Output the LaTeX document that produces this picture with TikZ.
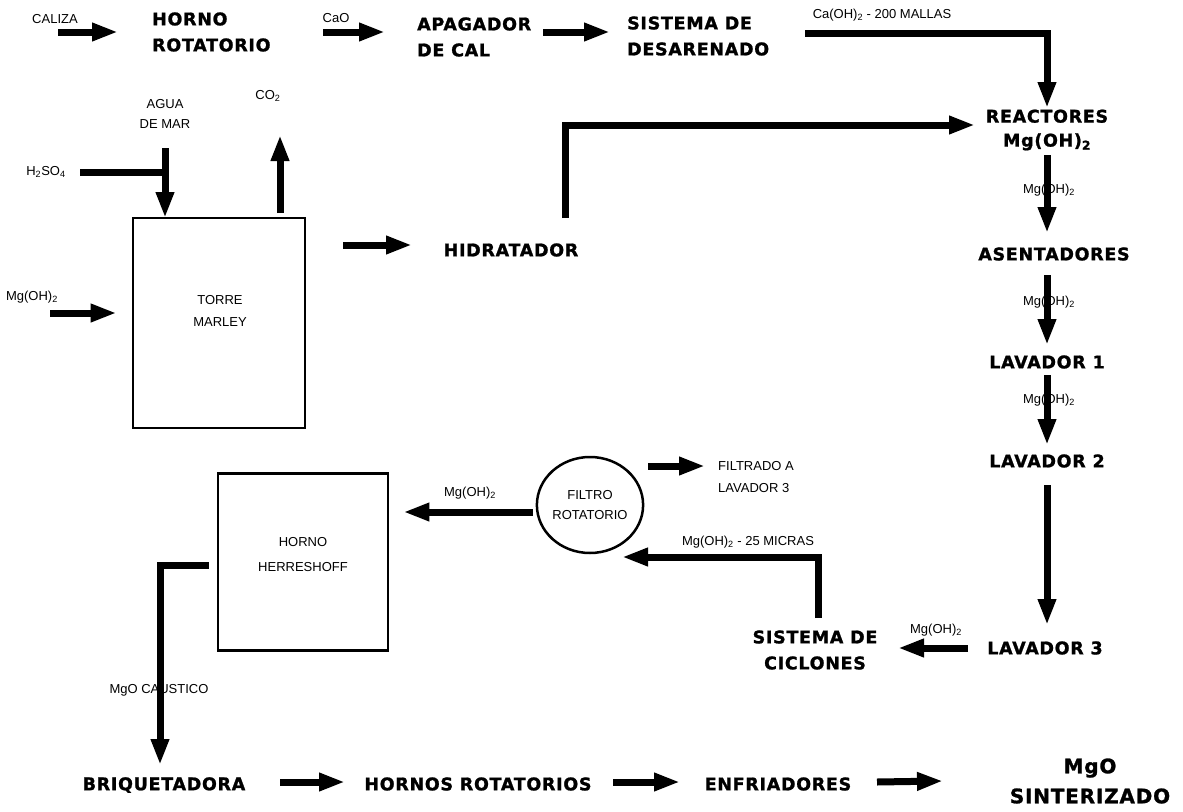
\documentclass[tikz,border=0pt]{standalone}
\usepackage{fontspec}
\setmainfont{Liberation Sans}
\newfontfamily\heavy[LetterSpace=4,BoldFeatures={FakeBold=1.2}]{DejaVu Sans}
\usetikzlibrary{arrows.meta,shapes.geometric}
\begin{document}
\begin{tikzpicture}[x=1pt,y=-1pt,
  bl/.style={font=\heavy\bfseries\fontsize{17.5}{26}\selectfont, inner sep=0pt, align=center},
  lb/.style={font=\fontsize{13}{20}\selectfont, inner sep=0pt, align=center},
  arr/.style={line width=7pt, -{Triangle[length=26pt,width=17pt]}},
  bar/.style={line width=7pt},
  box/.style={draw, line width=2.8pt, inner sep=0pt}]
\useasboundingbox[fill=white] (0,0) rectangle (1183,811);

% process nodes
\node[bl,anchor=west,align=left] (horno) at (152,32) {HORNO\\ROTATORIO};
\node[bl,anchor=west,align=left] (apag) at (417,37) {APAGADOR\\DE CAL};
\node[bl,anchor=west,align=left] (desar) at (627,36) {SISTEMA DE\\DESARENADO};
\node[bl,font=\heavy\bfseries\fontsize{17.5}{24}\selectfont] (react) at (1047,130) {REACTORES\\Mg(OH)\textsubscript{2}};
\node[bl] (asent) at (1054,254) {ASENTADORES};
\node[bl] (lav1) at (1047,362) {LAVADOR 1};
\node[bl] (lav2) at (1047,461) {LAVADOR 2};
\node[bl] (lav3) at (1045,648) {LAVADOR 3};
\node[bl] (cicl) at (815,650) {SISTEMA DE\\CICLONES};
\node[bl] (hidr) at (511,250) {HIDRATADOR};
\node[bl] (briq) at (164,785) {BRIQUETADORA};
\node[bl] (hrot) at (478,784) {HORNOS ROTATORIOS};
\node[bl] (enfr) at (778,784) {ENFRIADORES};
\node[bl,font=\heavy\bfseries\fontsize{20}{30}\selectfont] (mgo) at (1090,781) {MgO\\SINTERIZADO};
\node[box, minimum width=172pt, minimum height=210pt] (torre) at (219,323) {};
\node[box, minimum width=170pt, minimum height=177pt] (herr) at (303,562) {};
\node[draw, ellipse, line width=2.5pt, minimum width=90pt, minimum height=96pt, inner sep=0pt, lb] (filtro) at (590,505) {FILTRO\\ROTATORIO};

% labels
\node[lb] (caliza) at (55,19) {CALIZA};
\node[lb] (cao) at (336,18) {CaO};
\node[lb] (l200) at (882,15) {Ca(OH)\textsubscript{2} - 200 MALLAS};
\node[lb] (agua) at (165,114) {AGUA\\DE MAR};
\node[lb] (h2so4) at (46,172) {H\textsubscript{2}SO\textsubscript{4}};
\node[lb] (co2) at (268,96) {CO\textsubscript{2}};
\node[lb] (mgin) at (32,297) {Mg(OH)\textsubscript{2}};
\node[lb,font=\fontsize{13}{22}\selectfont] (torret) at (220,311) {TORRE\\MARLEY};
\node[lb,font=\fontsize{13}{25}\selectfont] (herrt) at (303,555) {HORNO\\HERRESHOFF};
\node[lb] (m1) at (1049,190) {Mg(OH)\textsubscript{2}};
\node[lb] (m2) at (1049,302) {Mg(OH)\textsubscript{2}};
\node[lb] (m3) at (1049,400) {Mg(OH)\textsubscript{2}};
\node[lb] (m4) at (936,630) {Mg(OH)\textsubscript{2}};
\node[lb] (micras) at (748,542) {Mg(OH)\textsubscript{2} - 25 MICRAS};
\node[lb,anchor=west,align=left,font=\fontsize{13}{22}\selectfont] (filtrado) at (718,477) {FILTRADO A\\LAVADOR 3};
\node[lb] (mgf) at (470,493) {Mg(OH)\textsubscript{2}};
\node[lb] (caus) at (159,690) {MgO CAUSTICO};

% connectors: top row
\draw[arr] ([shift={(3,13)}]caliza.center) -- ([xshift=-34pt]horno.west);
\draw[arr] ([shift={(-13,14)}]cao.center) -- ([shift={(-32,-5)}]apag.west);
\draw[arr] ([shift={(126,-5)}]apag.west) -- ([shift={(-17,-4)}]desar.west);
\draw[arr] ([shift={(178,-3)}]desar.west) -| ([shift={(0,-22)}]react.center);
\draw[arr] ([shift={(54,-32)}]hidr.center) |- ([shift={(-72,-5)}]react.center);

% torre marley
\draw[arr] ([shift={(0,34)}]agua.center) -- ([shift={(-54,-105)}]torre.center);
\draw[bar] ([shift={(34,0)}]h2so4.center) -- ([shift={(3.5,58)}]agua.center);
\draw[arr] ([shift={(61,-110)}]torre.center) -- ([shift={(12,39)}]co2.center);
\draw[arr] ([shift={(18,16)}]mgin.center) -- ([shift={(-15,-10)}]torre.west);
\draw[arr] ([shift={(37,-78)}]torre.east) -- ([shift={(-99,-5)}]hidr.center);

% column
\draw[arr] ([shift={(0,25)}]react.center) -- ([shift={(-7,-21)}]asent.center);
\draw[arr] ([shift={(-7,21)}]asent.center) -- ([shift={(0,-17)}]lav1.center);
\draw[arr] ([shift={(0,13)}]lav1.center) -- ([shift={(0,-16)}]lav2.center);
\draw[arr] ([shift={(0,24)}]lav2.center) -- ([shift={(2,-23)}]lav3.center);
\draw[arr] ([shift={(-77,0)}]lav3.center) -- ([shift={(83,-2)}]cicl.center);
\draw[arr] ([shift={(3,-32)}]cicl.center) |- ([shift={(32,52)}]filtro.center);
\draw[arr] ([shift={(58,-39)}]filtro.center) -- ([shift={(-13,-11)}]filtrado.west);
\draw[arr] ([shift={(-57,7)}]filtro.center) -- ([shift={(14,-50)}]herr.east);
\draw[arr] ([shift={(-8,3)}]herr.west) -| ([shift={(-4,-20)}]briq.center);

% bottom row
\draw[arr] ([shift={(116,-3)}]briq.center) -- ([shift={(-133,-2)}]hrot.center);
\draw[arr] ([shift={(135,-2)}]hrot.center) -- ([shift={(-98,-2)}]enfr.center);
\draw[arr] ([shift={(99,-2)}]enfr.center) -- ([shift={(-147,0)}]mgo.center);
\end{tikzpicture}
\end{document}
